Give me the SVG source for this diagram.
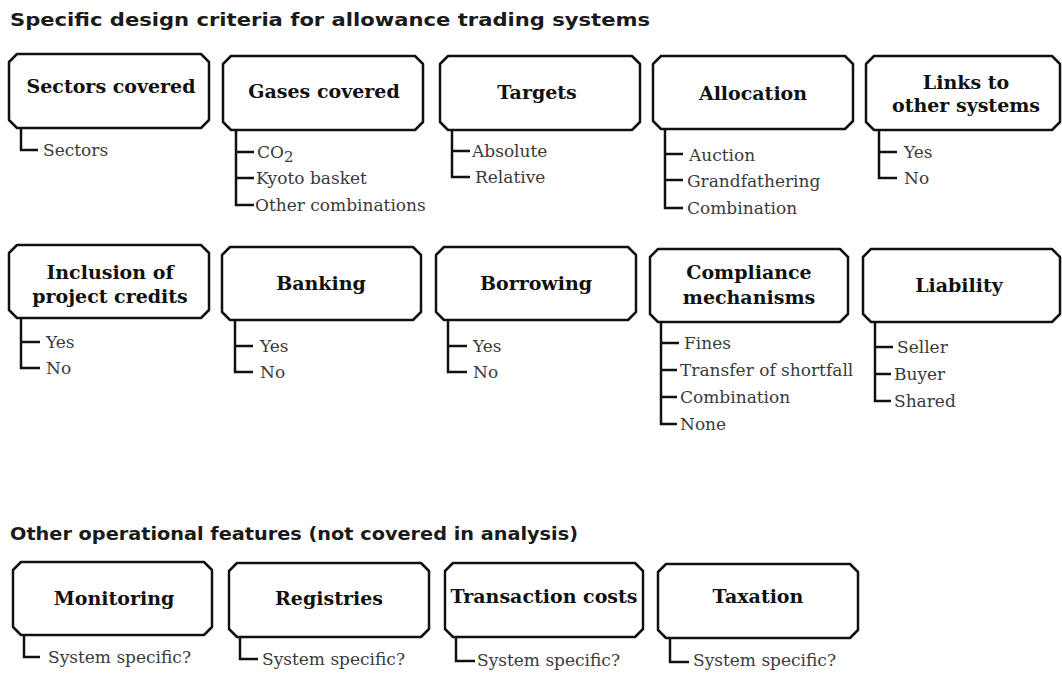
<svg xmlns="http://www.w3.org/2000/svg" width="1062" height="673" viewBox="0 0 1062 673">
  <style>
    .title { font-family: "DejaVu Sans", "Liberation Sans", sans-serif; font-weight: bold; font-size: 17px; fill: #1a1a1a; }
    .box { fill: #ffffff; stroke: #111111; stroke-width: 2.5; stroke-linejoin: round; }
    .head { font-family: "DejaVu Serif", "Liberation Serif", serif; font-weight: bold; font-size: 19px; fill: #111111; text-anchor: middle; }
    .item { font-family: "DejaVu Serif", "Liberation Serif", serif; font-size: 17px; fill: #3a3a3a; }
    .bracket { fill: none; stroke: #111111; stroke-width: 2.5; stroke-linejoin: miter; stroke-linecap: butt; }
  </style>

  <rect width="1062" height="673" fill="#ffffff"/>

  <text class="title" x="10" y="26" textLength="640" lengthAdjust="spacingAndGlyphs">Specific design criteria for allowance trading systems</text>
  <text class="title" x="10" y="540" textLength="568" lengthAdjust="spacingAndGlyphs">Other operational features (not covered in analysis)</text>

  <!-- Row 1 -->
  <g id="sectors-covered">
    <path class="box" d="M17,54 H201 L209,62 V120 L201,128 H17 L9,120 V62 Z"/>
    <text class="head" x="111" y="93">Sectors covered</text>
    <text class="item" x="43" y="156">Sectors</text>
  </g>

  <g id="gases-covered">
    <path class="box" d="M231,56 H415 L423,64 V122 L415,130 H231 L223,122 V64 Z"/>
    <text class="head" x="324" y="98">Gases covered</text>
    <text class="item" x="257" y="158">CO<tspan dy="4" font-size="15">2</tspan></text>
    <text class="item" x="256" y="184">Kyoto basket</text>
    <text class="item" x="255" y="211">Other combinations</text>
  </g>

  <g id="targets">
    <path class="box" d="M448,56 H632 L640,64 V122 L632,130 H448 L440,122 V64 Z"/>
    <text class="head" x="537" y="99">Targets</text>
    <text class="item" x="472" y="157">Absolute</text>
    <text class="item" x="475" y="183">Relative</text>
  </g>

  <g id="allocation">
    <path class="box" d="M661,56 H845 L853,64 V121 L845,129 H661 L653,121 V64 Z"/>
    <text class="head" x="753" y="100">Allocation</text>
    <text class="item" x="689" y="161">Auction</text>
    <text class="item" x="687" y="187">Grandfathering</text>
    <text class="item" x="687" y="214">Combination</text>
  </g>

  <g id="links-to-other-systems">
    <path class="box" d="M874,56 H1052 L1060,64 V122 L1052,130 H874 L866,122 V64 Z"/>
    <text class="head" x="966" y="89">Links to</text>
    <text class="head" x="966" y="112">other systems</text>
    <text class="item" x="904" y="158">Yes</text>
    <text class="item" x="904" y="184">No</text>
  </g>

  <!-- Row 2 -->
  <g id="inclusion-of-project-credits">
    <path class="box" d="M17,245 H201 L209,253 V310 L201,318 H17 L9,310 V253 Z"/>
    <text class="head" x="110" y="279">Inclusion of</text>
    <text class="head" x="110" y="303">project credits</text>
    <text class="item" x="46" y="348">Yes</text>
    <text class="item" x="46" y="374">No</text>
  </g>

  <g id="banking">
    <path class="box" d="M230,247 H413 L421,255 V312 L413,320 H230 L222,312 V255 Z"/>
    <text class="head" x="321" y="290">Banking</text>
    <text class="item" x="260" y="352">Yes</text>
    <text class="item" x="260" y="378">No</text>
  </g>

  <g id="borrowing">
    <path class="box" d="M444,247 H628 L636,255 V312 L628,320 H444 L436,312 V255 Z"/>
    <text class="head" x="536" y="290">Borrowing</text>
    <text class="item" x="473" y="352">Yes</text>
    <text class="item" x="473" y="378">No</text>
  </g>

  <g id="compliance-mechanisms">
    <path class="box" d="M658,249 H840 L848,257 V314 L840,322 H658 L650,314 V257 Z"/>
    <text class="head" x="749" y="279">Compliance</text>
    <text class="head" x="749" y="304">mechanisms</text>
    <text class="item" x="684" y="349">Fines</text>
    <text class="item" x="680" y="376">Transfer of shortfall</text>
    <text class="item" x="680" y="403">Combination</text>
    <text class="item" x="680" y="430">None</text>
  </g>

  <g id="liability">
    <path class="box" d="M871,249 H1052 L1060,257 V314 L1052,322 H871 L863,314 V257 Z"/>
    <text class="head" x="959" y="292">Liability</text>
    <text class="item" x="897" y="353">Seller</text>
    <text class="item" x="894" y="380">Buyer</text>
    <text class="item" x="894" y="407">Shared</text>
  </g>

  <!-- Row 3 -->
  <g id="monitoring">
    <path class="box" d="M21,562 H204 L212,570 V627 L204,635 H21 L13,627 V570 Z"/>
    <text class="head" x="114" y="605">Monitoring</text>
    <text class="item" x="48" y="663">System specific?</text>
  </g>

  <g id="registries">
    <path class="box" d="M237,563 H421 L429,571 V629 L421,637 H237 L229,629 V571 Z"/>
    <text class="head" x="329" y="605">Registries</text>
    <text class="item" x="262" y="665">System specific?</text>
  </g>

  <g id="transaction-costs">
    <path class="box" d="M453,563 H635 L643,571 V629 L635,637 H453 L445,629 V571 Z"/>
    <text class="head" x="544" y="603">Transaction costs</text>
    <text class="item" x="477" y="666">System specific?</text>
  </g>

  <g id="taxation">
    <path class="box" d="M666,564 H850 L858,572 V630 L850,638 H666 L658,630 V572 Z"/>
    <text class="head" x="758" y="603">Taxation</text>
    <text class="item" x="693" y="666">System specific?</text>
  </g>

  <!-- Brackets joining each box to its options -->
  <g id="connectors">
    <path class="bracket" d="M21,128 V150 H38"/>
    <path class="bracket" d="M236,130 V205 H254 M236,152 H254 M236,178 H254"/>
    <path class="bracket" d="M452,130 V177 H470 M452,151 H470"/>
    <path class="bracket" d="M665,129 V208 H683 M665,154 H683 M665,180 H683"/>
    <path class="bracket" d="M879,130 V178 H897 M879,152 H897"/>

    <path class="bracket" d="M21,318 V368 H40 M21,342 H40"/>
    <path class="bracket" d="M235,320 V372 H253 M235,346 H253"/>
    <path class="bracket" d="M448,320 V372 H467 M448,346 H467"/>
    <path class="bracket" d="M661,322 V424 H677 M661,343 H679 M661,370 H677 M661,397 H677"/>
    <path class="bracket" d="M875,322 V401 H891 M875,347 H893 M875,374 H891"/>

    <path class="bracket" d="M24,635 V657 H40"/>
    <path class="bracket" d="M240,637 V659 H258"/>
    <path class="bracket" d="M456,637 V661 H475"/>
    <path class="bracket" d="M670,638 V662 H689"/>
  </g>
</svg>
